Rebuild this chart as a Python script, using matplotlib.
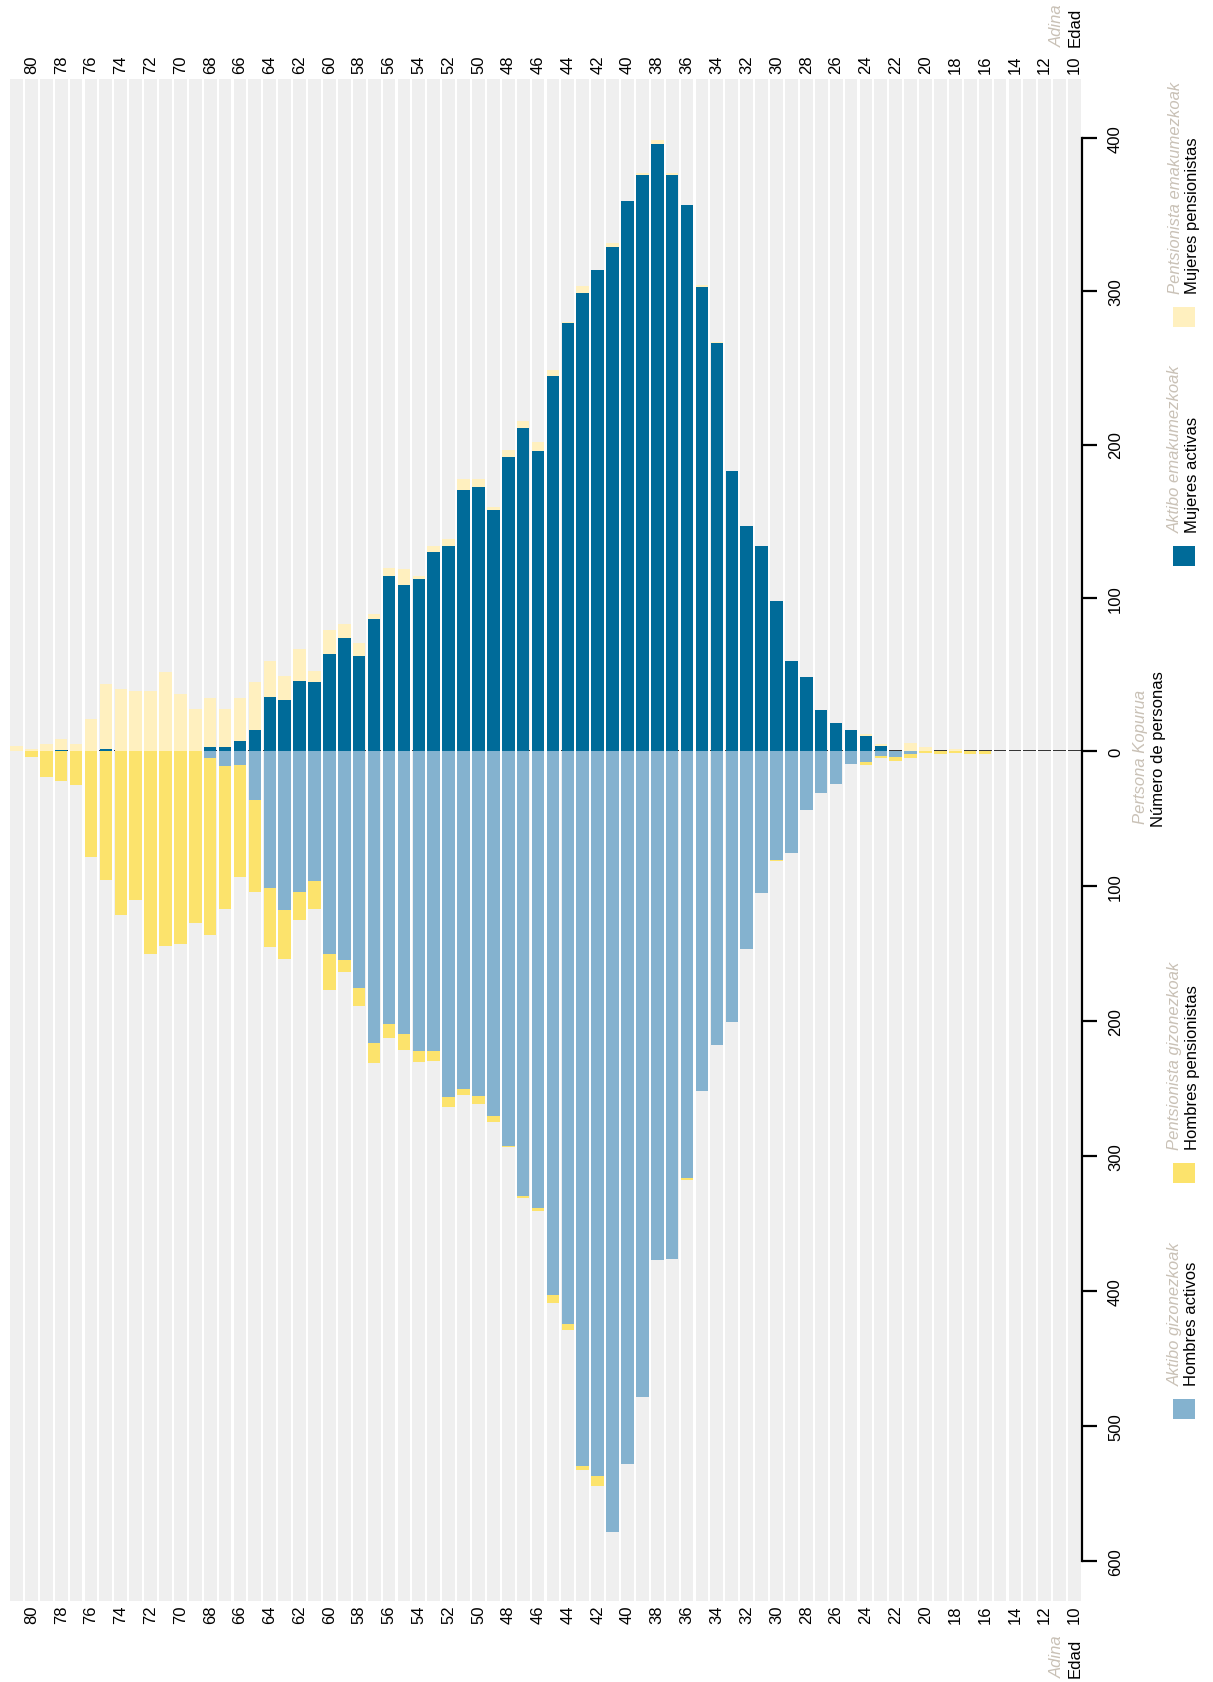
import matplotlib
matplotlib.use('Agg')
import matplotlib.pyplot as plt
from matplotlib import font_manager
from matplotlib.patches import Rectangle

# ages 81 -> 10
ages = list(range(81, 9, -1))

# women, active (dark blue) and pensioners (light yellow, stacked on top)
women_active = [0, 0, 0, 0.5, 0, 0, 1, 0, 0, 0,
                0, 0, 0, 2.4, 2.4, 6.3, 14, 35, 33, 46,
                45, 63, 74, 62, 86, 114, 108, 112, 130, 134,
                170, 172, 157, 192, 211, 196, 245, 279, 299, 314,
                329, 359, 376, 396, 376, 356, 303, 266, 183, 147,
                134, 98, 59, 48, 27, 18, 14, 10, 3, 0,
                0, 0, 0, 0, 0, 0, 0, 0, 0, 0,
                0, 0]
women_pens = [3, 1, 4.3, 7.5, 4.3, 21, 42.7, 40.7, 39.4, 39.4,
              51.5, 37.2, 27.6, 32.2, 25, 28.3, 30.7, 24, 15.7, 20.5,
              7.2, 15.8, 8.7, 8.4, 3.5, 5.2, 10.5, 2.5, 4, 4.5,
              7.2, 5.2, 2, 4.5, 4.6, 5.9, 3.3, 1.2, 4.4, 0,
              2.4, 0, 1.4, 2.5, 1.4, 0, 1, 0.7, 0, 0,
              0, 0, 0, 0, 0, 0, 0, 0.9, 1.8, 0,
              5.2, 2.6, 0, 1.1, 0, 0, 0, 0, 0, 0,
              0, 0]

# men, active (light blue) and pensioners (yellow, stacked below)
men_active = [0, 0, 0, 0, 0, 0, 0, 0, 0, 0,
              0, 0, 0, 5.4, 11.4, 10.6, 36.4, 101.5, 117.5, 104.4,
              96.3, 150.4, 154.8, 175.6, 216.3, 202.2, 209.6, 222.2, 222.2, 256.3,
              250.4, 255.6, 270.4, 292.4, 329.5, 338.6, 403.1, 424.6, 529.4, 537.4,
              578.6, 527.9, 478.7, 377.2, 376, 316.4, 252, 217.9, 200.7, 146.5,
              105, 80.7, 75.6, 43.5, 31.3, 24.4, 9.6, 8.1, 3.9, 4.7,
              2.5, 0, 0, 0, 0, 0, 0, 0, 0, 0,
              0, 0]
men_pens = [0, 4.4, 19.3, 22.2, 25.4, 78.5, 95.5, 121.3, 110.6, 150.6,
            144.3, 142.7, 127.6, 130.9, 105.9, 82.7, 67.9, 43.5, 36.3, 20.6,
            20.5, 26.4, 8.7, 13, 14.6, 10.1, 11.6, 7.9, 7.2, 7.2,
            4.2, 5.6, 4.2, 0.7, 1.8, 2.2, 5.8, 4.4, 3.2, 7.1,
            0, 0, 0, 0, 0, 1.6, 0, 0, 0, 0,
            0, 0.5, 0, 0, 0, 0, 0, 2.2, 1.3, 2.7,
            3, 1.7, 2.5, 1.7, 2.5, 2.5, 0, 0, 0, 0,
            0, 0]

age_ticks = list(range(80, 9, -2))
women_ticks = [0, 100, 200, 300, 400]
men_ticks = [100, 200, 300, 400, 500, 600]

legend_items = [
    ('#84b2cf', 'Aktibo gizonezkoak', 'Hombres activos', 1386),
    ('#fce36c', 'Pentsionista gizonezkoak', 'Hombres pensionistas', 1150),
    ('#006b99', 'Aktibo emakumezkoak', 'Mujeres activas', 533),
    ('#fff0bf', 'Pentsionista emakumezkoak', 'Mujeres pensionistas', 294),
]

C_DARK = '#006b99'
C_LIGHT = '#84b2cf'
C_YEL = '#fce36c'
C_LYEL = '#fff0bf'
C_STRIPE = '#efefef'
C_GRAY = '#c9c1b6'


def pick_font(names):
    for n in names:
        try:
            font_manager.findfont(n, fallback_to_default=False)
            return n
        except Exception:
            pass
    return 'DejaVu Sans'


plt.rcParams['font.family'] = [pick_font(['Liberation Sans', 'Arial']), 'DejaVu Sans']
FS = 12

W, H = 1213, 1683
fig = plt.figure(figsize=(W / 100, H / 100), dpi=100)


def fx(x):
    return x / W


def fy(y):
    return 1 - y / H


L, R = 9, 1082
T, Z, B = 80, 752, 1602
W_PX = 1.5325   # px per person, women side
M_PX = 1.35     # px per person, men side

ax_w = fig.add_axes([fx(L), fy(Z), (R - L) / W, (Z - T) / H])
ax_m = fig.add_axes([fx(L), fy(B), (R - L) / W, (B - Z) / H])

w_top = (Z - T) / W_PX
m_top = (B - Z) / M_PX
ax_w.set_ylim(0, w_top)
ax_m.set_ylim(m_top, 0)

for ax, top in ((ax_w, w_top), (ax_m, m_top)):
    ax.set_xlim(81.5, 9.5)
    ax.bar(ages, [top] * len(ages), width=0.86, color=C_STRIPE, zorder=0)
    for s in ('top', 'left', 'bottom'):
        ax.spines[s].set_visible(False)
    ax.spines['right'].set_linewidth(1.6)
    ax.yaxis.tick_right()
    ax.tick_params(axis='y', direction='out', length=10.8, width=1.6, pad=8,
                   labelsize=FS, labelrotation=90)
    ax.tick_params(axis='x', length=0, labelsize=FS, labelrotation=90)
    ax.set_xticks(age_ticks)
    ax.set_xticklabels([str(a) for a in age_ticks])

ax_w.hlines([0] * len(ages), [a - 0.43 for a in ages], [a + 0.43 for a in ages],
            color='#222222', lw=1.3, zorder=1, clip_on=False)

ax_w.bar(ages, women_active, width=0.84, color=C_DARK, zorder=2)
ax_w.bar(ages, women_pens, width=0.84, bottom=women_active, color=C_LYEL, zorder=2)
ax_m.bar(ages, men_active, width=0.84, color=C_LIGHT, zorder=2)
ax_m.bar(ages, men_pens, width=0.84, bottom=men_active, color=C_YEL, zorder=2)

ax_w.spines['right'].set_bounds(0, 400)
ax_m.spines['right'].set_bounds(0, 600)
ax_w.set_yticks(women_ticks)
ax_m.set_yticks(men_ticks)
for ax in (ax_w, ax_m):
    for lab in ax.get_yticklabels():
        lab.set_va('center')
        lab.set_ha('left')

ax_w.xaxis.tick_top()
ax_w.tick_params(axis='x', pad=4.5)
ax_m.tick_params(axis='x', pad=2.5)

# corner labels
for y, va in ((47, 'bottom'), (1678, 'bottom')):
    fig.text(fx(1057), fy(y), 'Adina', rotation=90, ha='center', va=va,
             color=C_GRAY, style='italic', fontsize=FS)
    fig.text(fx(1075), fy(y), 'Edad', rotation=90, ha='center', va=va,
             color='black', fontsize=FS)

# value axis title
fig.text(fx(1141), fy(757), 'Pertsona Kopurua', rotation=90, ha='center', va='center',
         color=C_GRAY, style='italic', fontsize=FS)
fig.text(fx(1159), fy(749), 'Número de personas', rotation=90, ha='center', va='center',
         color='black', fontsize=FS)

# legend
for col, eus, esp, y0 in legend_items:
    fig.add_artist(Rectangle((fx(1173), fy(y0 + 34)), 22 / W, 20 / H,
                             transform=fig.transFigure, color=col, lw=0))
    fig.text(fx(1175), fy(y0), eus, rotation=90, ha='center', va='bottom',
             color=C_GRAY, style='italic', fontsize=FS)
    fig.text(fx(1192), fy(y0), esp, rotation=90, ha='center', va='bottom',
             color='black', fontsize=FS)

fig.savefig('out.png', dpi=100)
